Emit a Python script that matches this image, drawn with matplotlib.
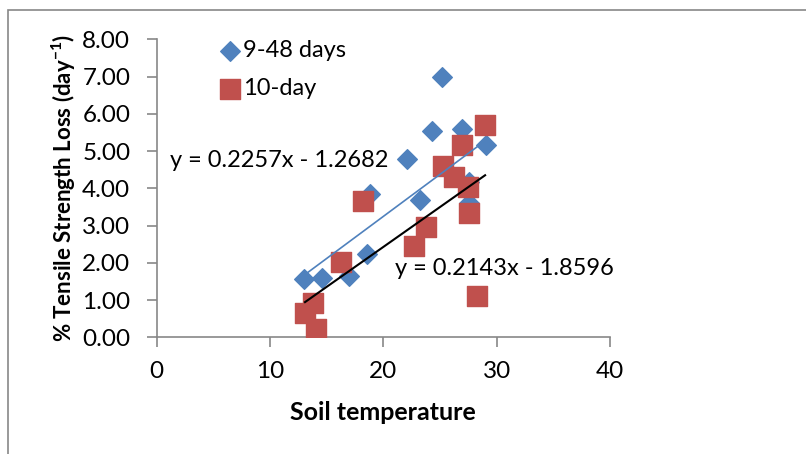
import matplotlib.pyplot as plt
from matplotlib.patches import Rectangle

plt.rcParams['font.family'] = ['Lato', 'DejaVu Sans']

# 9-48 days series
x_blue = [13.0, 14.56, 17.0, 18.53, 18.8, 22.07, 23.24, 24.27, 25.2, 26.97, 27.6, 27.6, 29.06]
y_blue = [1.57, 1.60, 1.65, 2.24, 3.85, 4.80, 3.69, 5.54, 7.00, 5.58, 4.18, 3.60, 5.16]

# 10-day series
x_red = [13.09, 13.77, 14.03, 16.26, 18.23, 22.74, 23.77, 25.24, 26.24, 26.97, 27.5, 27.56, 28.98, 28.24]
y_red = [0.64, 0.91, 0.21, 2.03, 3.66, 2.46, 2.97, 4.60, 4.30, 5.16, 4.03, 3.33, 5.70, 1.12]

# trendline coefficients as printed on the chart
fit_blue = (0.2257, -1.2682)
fit_red = (0.2143, -1.8596)

blue = '#4F81BD'
red = '#C0504D'

fig = plt.figure(figsize=(8.06, 4.54), dpi=100)
ax = fig.add_axes([0.1944, 0.257, 0.5624, 0.6564])

# outer chart border
fig.patches.append(Rectangle((8 / 806, -0.1), 1.2, 1.1 - 10 / 454, transform=fig.transFigure,
                             fill=False, edgecolor='#878787', linewidth=1.2))

ax.scatter(x_blue, y_blue, marker='D', s=100, color=blue, label='9-48 days', zorder=3)
ax.scatter(x_red, y_red, marker='s', s=210, color=red, label='10-day', zorder=4)

xb = [min(x_blue), max(x_blue)]
ax.plot(xb, [fit_blue[0] * v + fit_blue[1] for v in xb], color=blue, lw=1.2, zorder=5)
xr = [min(x_red), max(x_red)]
ax.plot(xr, [fit_red[0] * v + fit_red[1] for v in xr], color='black', lw=1.5, zorder=5)

ax.text(1.2, 4.76, 'y = 0.2257x - 1.2682', fontsize=17, va='center', zorder=2)
ax.text(21.05, 1.86, 'y = 0.2143x - 1.8596', fontsize=17, va='center', zorder=2)

ax.set_xlim(0, 40)
ax.set_ylim(0, 8)
ax.set_xticks([0, 10, 20, 30, 40])
ax.set_yticks(range(0, 9))
ax.set_yticklabels(['%.2f' % v for v in range(0, 9)])
ax.tick_params(labelsize=17.5, color='#878787', length=7, width=1.2)
ax.tick_params(axis='x', pad=10)
ax.tick_params(axis='y', pad=12)
for s in ['top', 'right']:
    ax.spines[s].set_visible(False)
for s in ['left', 'bottom']:
    ax.spines[s].set_color('#878787')
    ax.spines[s].set_linewidth(1.2)

ax.set_xlabel('Soil temperature', fontsize=18, fontweight='bold', labelpad=14)
ax.set_ylabel('% Tensile Strength Loss (day$^{\\mathregular{-1}}$)', fontsize=16,
              fontweight='bold', labelpad=3)

ax.legend(loc='upper left', bbox_to_anchor=(0.112, 1.03), frameon=False, fontsize=17,
          handletextpad=0.0, labelspacing=0.72, handlelength=1.1, borderaxespad=0)

fig.savefig('out.png', dpi=100)
